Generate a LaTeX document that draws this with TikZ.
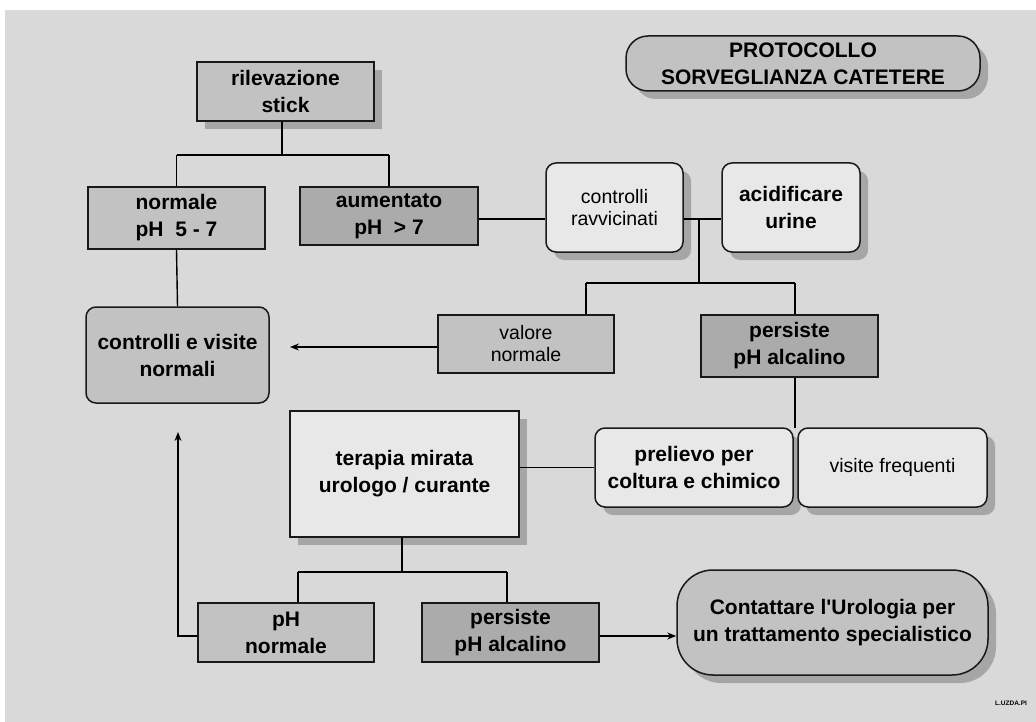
\documentclass[tikz,border=0pt]{standalone}
\usepackage{fontspec}
\setmainfont{Liberation Sans}
\newfontfamily\aposfont{Liberation Sans}
\usetikzlibrary{shadows,arrows.meta}
\definecolor{bg}{HTML}{D9D9D9}
\definecolor{gmid}{HTML}{C2C2C2}
\definecolor{gdark}{HTML}{ABABAB}
\definecolor{glight}{HTML}{E8E8E8}
\definecolor{gshadow}{HTML}{A6A6A6}
\tikzset{
  base/.style={draw=black!90, line width=1.5pt, align=center, inner sep=2pt, text=black},
  mid/.style={base, fill=gmid},
  dark/.style={base, fill=gdark},
  light/.style={base, fill=glight},
  rnd/.style={rounded corners=10pt},
  shad/.style={drop shadow={shadow xshift=8pt, shadow yshift=-8pt, fill=gshadow, opacity=1}},
  bt/.style={font=\fontsize{21}{27}\selectfont\bfseries},
  nt/.style={font=\fontsize{19.5}{22}\selectfont},
  conn/.style={draw=black, line width=1.4pt},
  arr/.style={conn, -{Stealth[length=9pt,width=7pt]}},
}
\begin{document}
\begin{tikzpicture}[x=1pt, y=-1pt]
\useasboundingbox (0,0) rectangle (1036,722);
\fill[white] (0,0) rectangle (1036,722);
\fill[bg] (5,10) rectangle (1036,722);

% title
\node[mid, shad, bt, rounded corners=22pt, minimum width=354pt, minimum height=55pt] (title) at (803,63.5) {PROTOCOLLO\\SORVEGLIANZA CATETERE};

% first level
\node[mid, shad, bt, minimum width=177pt, minimum height=59pt] (ril) at (285.5,91.5) {rilevazione\\stick};
\node[mid, bt, minimum width=177pt, minimum height=62pt] (norm) at (176.5,218) {normale\\pH\ \ 5 - 7};
\node[dark, bt, minimum width=178pt, minimum height=58pt] (aum) at (389,216) {aumentato\\pH\ \ > 7};

\node[light, shad, rnd, nt, minimum width=137pt, minimum height=89pt] (ctrlr) at (614.5,207.5) {controlli\\ravvicinati};
\node[light, shad, rnd, bt, minimum width=138pt, minimum height=89pt] (acid) at (791,207.5) {acidificare\\urine};

\node[mid, rnd, bt, minimum width=183pt, minimum height=96pt] (cevn) at (177.5,355) {controlli e visite\\normali};

\node[mid, nt, minimum width=176pt, minimum height=58pt] (val) at (526,344) {valore\\normale};
\node[dark, bt, minimum width=177pt, minimum height=62pt] (pers1) at (789.5,346) {persiste\\pH alcalino};

\node[light, shad, rnd, bt, minimum width=198pt, minimum height=79pt] (prel) at (694,467.5) {prelievo per\\coltura e chimico};
\node[light, shad, rnd, nt, minimum width=189pt, minimum height=79pt] (visf) at (892.5,467.5) {visite frequenti};

\node[light, shad, bt, minimum width=229pt, minimum height=126pt] (ter) at (404.5,474) {terapia mirata\\urologo / curante};

\node[mid, bt, minimum width=176pt, minimum height=59pt] (phn) at (286,632.5) {pH\\normale};
\node[dark, bt, minimum width=177pt, minimum height=59pt] (pers2) at (510.5,632.5) {persiste\\pH alcalino};

\node[mid, shad, bt, rounded corners=36pt, minimum width=311pt, minimum height=105pt] (cont) at (832.5,622.5) {Contattare l{\aposfont\bfseries '}Urologia per\\un trattamento specialistico};

\node[font=\fontsize{6.5}{7}\selectfont\bfseries, inner sep=0pt] (sig) at (1011,703) {L.UZDA.PI};

% coordinates for junctions
\coordinate (t1) at (282,155);
\coordinate (j1) at (699,219);
\coordinate (b1) at (586,283);
\coordinate (b2) at (795,283);
\coordinate (j3) at (795,428);
\coordinate (t2) at (402,572);
\coordinate (c1) at (298,572);
\coordinate (c2) at (507,572);
\coordinate (up) at (178,636);
\coordinate (uptip) at (178,432);
\coordinate (valtip) at (290,347);

% connectors
\draw[conn] (ril.south -| t1) -- (t1);
\draw[conn] (norm.north |- t1) -- (aum.north |- t1);
\draw[conn] (norm.north |- t1) -- (norm.north);
\draw[conn] (aum.north |- t1) -- (aum.north);
\draw[conn] (norm.south) -- (cevn.north);

\draw[conn] (aum.east |- j1) -- (ctrlr.west |- j1);
\draw[conn] (ctrlr.east |- j1) -- (acid.west |- j1);
\draw[conn] (j1) -- (j1 |- b1);
\draw[conn] (b1) -- (b2);
\draw[conn] (b1) -- (b1 |- val.north);
\draw[conn] (b2) -- (b2 |- pers1.north);
\draw[arr] (val.west |- valtip) -- (valtip);

\draw[conn] (j3 |- pers1.south) -- (j3);
\draw[conn] (ter.east |- prel.west) -- (prel.west);

\draw[conn] (t2 |- ter.south) -- (t2);
\draw[conn] (c1) -- (c2);
\draw[conn] (c1) -- (c1 |- phn.north);
\draw[conn] (c2) -- (c2 |- pers2.north);

\draw[arr] (phn.west |- up) -- (up) -- (uptip);
\draw[arr] (pers2.east |- up) -- (cont.west |- up);
\end{tikzpicture}
\end{document}
